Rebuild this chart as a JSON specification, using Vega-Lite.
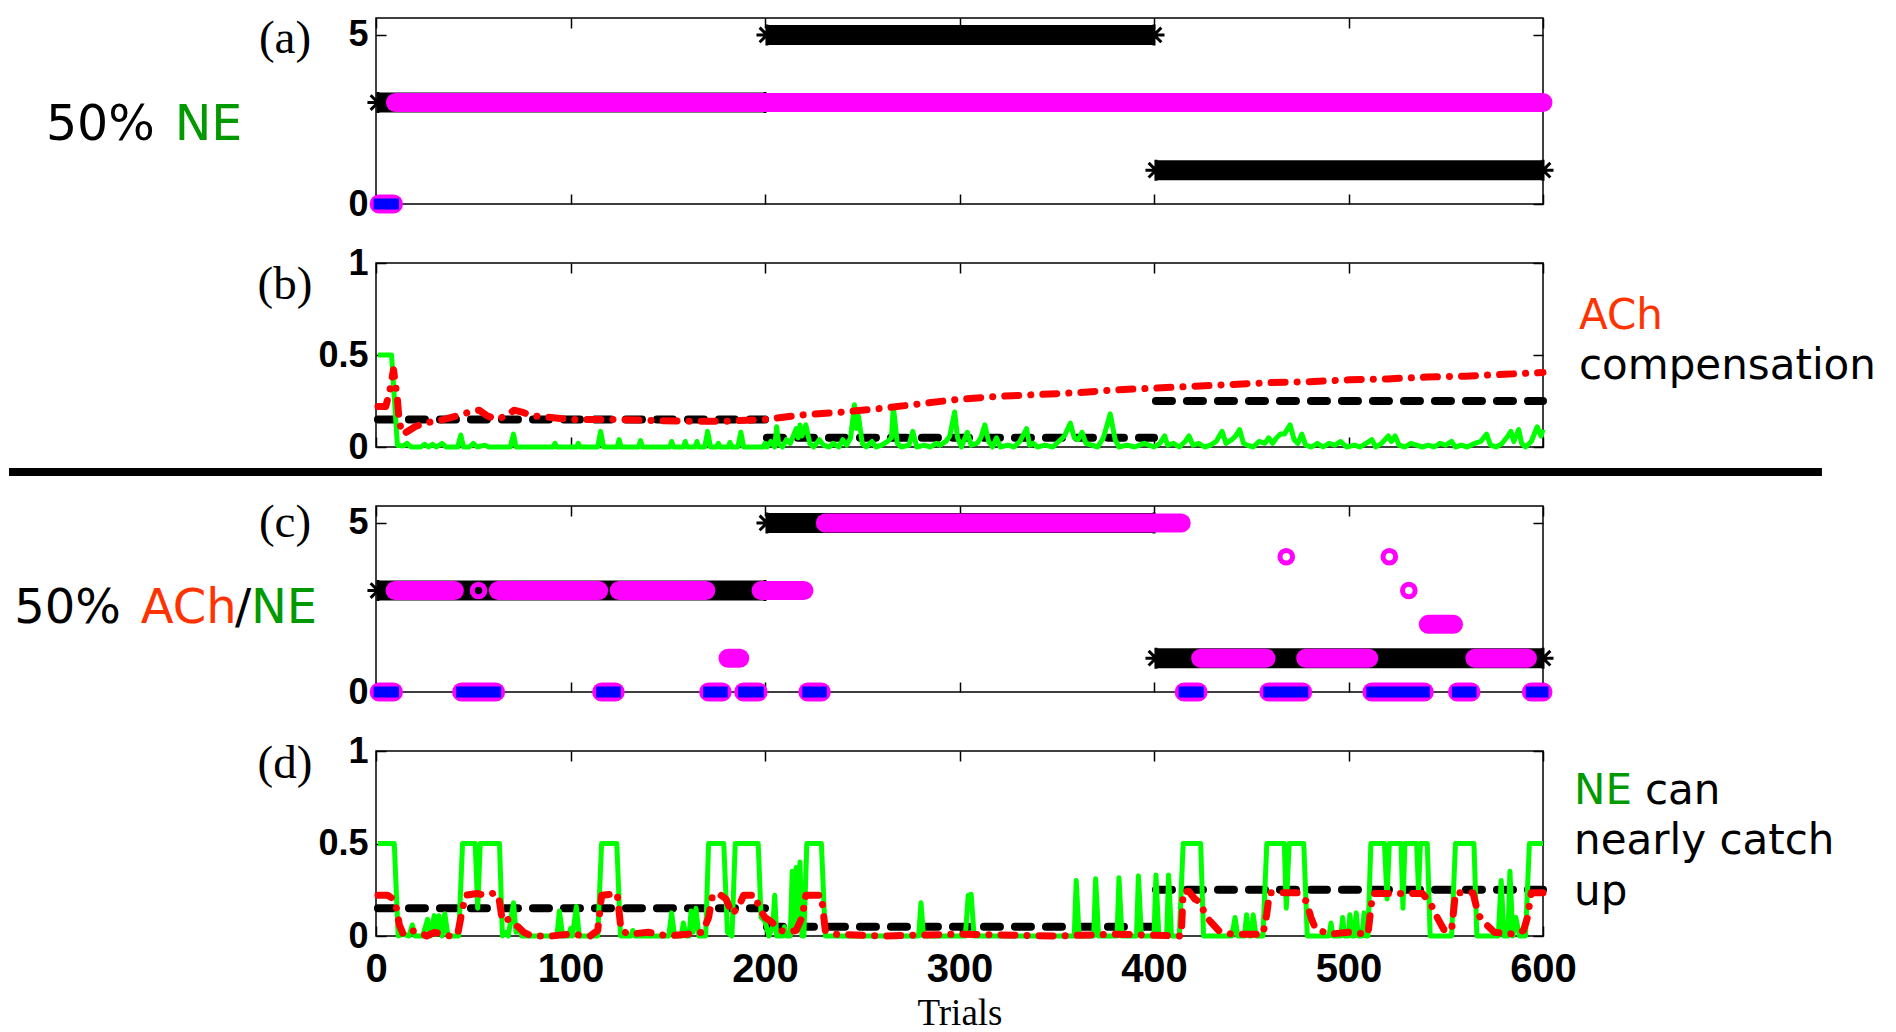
{
"$schema": "https://vega.github.io/schema/vega-lite/v6.json",
"background": "white",
"padding": {"left": 4, "top": 14, "right": 5, "bottom": 0},
"spacing": 59,
"bounds": "flush",
"config": {
  "view": {"stroke": "black", "strokeWidth": 1.5},
  "axis": {"domain": false, "grid": false, "labelFont": "Liberation Sans", "labelFontWeight": "bold", "labelFontSize": 36, "labelColor": "black", "tickColor": "black", "tickWidth": 1.5, "tickSize": -10, "titleColor": "black"}
},
"datasets": {
  "bands": [
    {"p":"a","k":"true","x":1,"x2":200,"y":3},
    {"p":"a","k":"true","x":201,"x2":400,"y":5},
    {"p":"a","k":"true","x":401,"x2":600,"y":1},
    {"p":"a","k":"choice","x":10,"x2":600,"y":3},
    {"p":"a","k":"zero","x":1.6,"x2":9,"y":0},
    {"p":"c","k":"true","x":1,"x2":200,"y":3},
    {"p":"c","k":"true","x":201,"x2":400,"y":5},
    {"p":"c","k":"true","x":401,"x2":600,"y":1},
    {"p":"c","k":"choice","x":9.8,"x2":40.3,"y":3},
    {"p":"c","k":"choice","x":62.9,"x2":114.5,"y":3},
    {"p":"c","k":"choice","x":125,"x2":169.6,"y":3},
    {"p":"c","k":"choice","x":198,"x2":220,"y":3},
    {"p":"c","k":"choice","x":181,"x2":187,"y":1},
    {"p":"c","k":"choice","x":231,"x2":414,"y":5},
    {"p":"c","k":"choice","x":424,"x2":457.6,"y":1},
    {"p":"c","k":"choice","x":478,"x2":510.4,"y":1},
    {"p":"c","k":"choice","x":565,"x2":592,"y":1},
    {"p":"c","k":"choice","x":541,"x2":554,"y":2},
    {"p":"c","k":"zero","x":1.6,"x2":9,"y":0},
    {"p":"c","k":"zero","x":44,"x2":61.5,"y":0},
    {"p":"c","k":"zero","x":116,"x2":123,"y":0},
    {"p":"c","k":"zero","x":171,"x2":178,"y":0},
    {"p":"c","k":"zero","x":189,"x2":196.5,"y":0},
    {"p":"c","k":"zero","x":222,"x2":229,"y":0},
    {"p":"c","k":"zero","x":415.5,"x2":422.7,"y":0},
    {"p":"c","k":"zero","x":459,"x2":476.5,"y":0},
    {"p":"c","k":"zero","x":512,"x2":539,"y":0},
    {"p":"c","k":"zero","x":556,"x2":563,"y":0},
    {"p":"c","k":"zero","x":594,"x2":600,"y":0}
  ],
  "rings": [
    {"p":"c","x":52.7,"y":3},
    {"p":"c","x":468,"y":4},
    {"p":"c","x":521,"y":4},
    {"p":"c","x":531,"y":3}
  ],
  "dashes": [
    {"p":"b","x":1,"x2":200,"y":0.15},
    {"p":"b","x":201,"x2":400,"y":0.05},
    {"p":"b","x":401,"x2":600,"y":0.25},
    {"p":"d","x":1,"x2":200,"y":0.15},
    {"p":"d","x":201,"x2":400,"y":0.05},
    {"p":"d","x":401,"x2":600,"y":0.25}
  ],
  "sep": [{"x":-188.7,"x2":743.4,"y":-0.136}],
  "texts": [
    {"p":"a","r":"lab","t":"(a)","x":-46.8,"y":4.88,"c":"k"},
    {"p":"b","r":"lab","t":"(b)","x":-46.8,"y":0.88,"c":"k"},
    {"p":"c","r":"lab","t":"(c)","x":-46.8,"y":5.0,"c":"k"},
    {"p":"d","r":"lab","t":"(d)","x":-46.8,"y":0.93,"c":"k"},
    {"p":"a","r":"big","t":"50%","x":-169.7,"y":1.89,"c":"k"},
    {"p":"a","r":"big","t":"NE","x":-103.5,"y":1.89,"c":"ne"},
    {"p":"c","r":"big","t":"50%","x":-186,"y":2.04,"c":"k"},
    {"p":"c","r":"big","t":"ACh","x":-121,"y":2.04,"c":"ach"},
    {"p":"c","r":"big","t":"/","x":-72.5,"y":2.04,"c":"k"},
    {"p":"c","r":"big","t":"NE","x":-64.3,"y":2.04,"c":"ne"},
    {"p":"b","r":"side","t":"ACh","x":618.5,"y":0.641,"c":"ach"},
    {"p":"b","r":"side","t":"compensation","x":618.5,"y":0.37,"c":"k"},
    {"p":"d","r":"side","t":"NE","x":616,"y":0.714,"c":"ne"},
    {"p":"d","r":"side","t":"can","x":652.4,"y":0.714,"c":"k"},
    {"p":"d","r":"side","t":"nearly catch","x":616,"y":0.443,"c":"k"},
    {"p":"d","r":"side","t":"up","x":616,"y":0.168,"c":"k"}
  ],
  "greenB": [
    {"x":1,"y":0.5},{"x":8,"y":0.5},{"x":11,"y":0.01},{"x":14,"y":0.005},{"x":16,"y":0.02},{"x":18,"y":0},{"x":23,"y":0},{"x":25,"y":0.015},{"x":27,"y":0},{"x":29,"y":0.015},{"x":31,"y":0},{"x":34,"y":0.02},{"x":36,"y":0},{"x":42,"y":0},{"x":43.6,"y":0.065},{"x":45,"y":0},{"x":48,"y":0},{"x":50,"y":0.02},{"x":52,"y":0},{"x":56,"y":0.01},{"x":58,"y":0},{"x":69,"y":0},{"x":70.7,"y":0.07},{"x":72,"y":0},{"x":91,"y":0},{"x":92,"y":0.02},{"x":93,"y":0},{"x":103,"y":0},{"x":104,"y":0.02},{"x":105,"y":0},{"x":114,"y":0},{"x":115.5,"y":0.085},{"x":117,"y":0},{"x":124,"y":0},{"x":125,"y":0.04},{"x":126,"y":0},{"x":135,"y":0},{"x":136,"y":0.035},{"x":137,"y":0},{"x":151,"y":0},{"x":152,"y":0.03},{"x":153,"y":0},{"x":158,"y":0},{"x":159,"y":0.03},{"x":160,"y":0},{"x":164,"y":0},{"x":165,"y":0.03},{"x":166,"y":0},{"x":169,"y":0},{"x":170.5,"y":0.085},{"x":172,"y":0},{"x":175,"y":0},{"x":176,"y":0.02},{"x":177,"y":0},{"x":181,"y":0},{"x":182,"y":0.025},{"x":183,"y":0},{"x":186,"y":0},{"x":187.6,"y":0.08},{"x":189,"y":0},{"x":199,"y":0},{"x":200,"y":0.02},{"x":201,"y":0},{"x":203,"y":0.03},{"x":205,"y":0},{"x":206,"y":0.11},{"x":207,"y":0.02},{"x":209,"y":0},{"x":211,"y":0.04},{"x":213,"y":0.02},{"x":216,"y":0.1},{"x":217,"y":0.05},{"x":218,"y":0.12},{"x":219,"y":0.06},{"x":221,"y":0.12},{"x":223,"y":0.02},{"x":225,"y":0},{"x":228,"y":0.04},{"x":230,"y":0.01},{"x":233,"y":0},{"x":235,"y":0.02},{"x":238,"y":0},{"x":240,"y":0.04},{"x":242,"y":0.01},{"x":244,"y":0.05},{"x":246,"y":0.23},{"x":247,"y":0.1},{"x":248,"y":0.17},{"x":250,"y":0.02},{"x":252,"y":0},{"x":255,"y":0.03},{"x":257,"y":0},{"x":260,"y":0.01},{"x":263,"y":0.03},{"x":265,"y":0.05},{"x":266,"y":0.22},{"x":268,"y":0.02},{"x":270,"y":0},{"x":274,"y":0.01},{"x":276,"y":0.085},{"x":278,"y":0},{"x":282,"y":0.01},{"x":285,"y":0},{"x":288,"y":0.02},{"x":290,"y":0.01},{"x":293,"y":0.03},{"x":295,"y":0.06},{"x":297.5,"y":0.19},{"x":299,"y":0.05},{"x":301,"y":0},{"x":304,"y":0.08},{"x":306,"y":0.01},{"x":309,"y":0.02},{"x":311,"y":0.05},{"x":313,"y":0.12},{"x":315,"y":0.03},{"x":317,"y":0},{"x":319,"y":0.05},{"x":321,"y":0},{"x":325,"y":0.01},{"x":328,"y":0},{"x":331,"y":0.03},{"x":334.5,"y":0.1},{"x":336,"y":0.01},{"x":338,"y":0.02},{"x":340,"y":0},{"x":344,"y":0.01},{"x":348,"y":0},{"x":351,"y":0.03},{"x":354,"y":0.06},{"x":357,"y":0.13},{"x":359,"y":0.05},{"x":361,"y":0.04},{"x":363,"y":0.08},{"x":365,"y":0.02},{"x":368,"y":0.01},{"x":371,"y":0},{"x":374,"y":0.05},{"x":377.5,"y":0.18},{"x":380,"y":0.04},{"x":382,"y":0},{"x":386,"y":0.01},{"x":390,"y":0},{"x":395,"y":0.02},{"x":400,"y":0},{"x":403,"y":0.02},{"x":405.5,"y":0.06},{"x":407,"y":0.01},{"x":410,"y":0.02},{"x":413,"y":0},{"x":416,"y":0.03},{"x":418,"y":0.06},{"x":420,"y":0.01},{"x":423,"y":0.02},{"x":426,"y":0},{"x":429,"y":0.01},{"x":432,"y":0.03},{"x":435,"y":0.085},{"x":437,"y":0.02},{"x":440,"y":0.04},{"x":442,"y":0.06},{"x":444,"y":0.095},{"x":446,"y":0.02},{"x":448,"y":0.01},{"x":451,"y":0},{"x":454,"y":0.03},{"x":457,"y":0.02},{"x":459,"y":0.05},{"x":461,"y":0.02},{"x":463,"y":0.05},{"x":465,"y":0.07},{"x":467,"y":0.07},{"x":470,"y":0.12},{"x":472,"y":0.04},{"x":474,"y":0.02},{"x":476,"y":0.07},{"x":478,"y":0.01},{"x":481,"y":0},{"x":484,"y":0.02},{"x":487,"y":0},{"x":490,"y":0.02},{"x":493,"y":0.01},{"x":496,"y":0.03},{"x":499,"y":0},{"x":503,"y":0.01},{"x":506,"y":0},{"x":509,"y":0.02},{"x":512,"y":0.04},{"x":514,"y":0},{"x":517,"y":0.02},{"x":520.5,"y":0.06},{"x":522,"y":0.03},{"x":524,"y":0.06},{"x":526,"y":0.01},{"x":529,"y":0},{"x":532,"y":0.02},{"x":535,"y":0.01},{"x":538,"y":0},{"x":541,"y":0.01},{"x":544,"y":0},{"x":547,"y":0.02},{"x":550,"y":0.01},{"x":553,"y":0.03},{"x":555,"y":0},{"x":558,"y":0.01},{"x":561,"y":0},{"x":565,"y":0.02},{"x":568,"y":0.03},{"x":571,"y":0.07},{"x":573,"y":0.01},{"x":576,"y":0},{"x":579,"y":0.02},{"x":582,"y":0.06},{"x":583.5,"y":0.085},{"x":585,"y":0.03},{"x":587.5,"y":0.095},{"x":589,"y":0.02},{"x":591,"y":0},{"x":594,"y":0.03},{"x":597,"y":0.11},{"x":599,"y":0.06},{"x":600,"y":0.095}
  ],
  "redB": [
    {"x":1,"y":0.22},{"x":5,"y":0.22},{"x":7,"y":0.3},{"x":9,"y":0.42},{"x":11,"y":0.26},{"x":12,"y":0.13},{"x":14,"y":0.07},{"x":17,"y":0.09},{"x":20,"y":0.11},{"x":25,"y":0.13},{"x":30,"y":0.14},{"x":35,"y":0.15},{"x":42,"y":0.17},{"x":48,"y":0.19},{"x":53,"y":0.2},{"x":57,"y":0.17},{"x":62,"y":0.15},{"x":67,"y":0.17},{"x":71,"y":0.2},{"x":75,"y":0.19},{"x":80,"y":0.17},{"x":90,"y":0.16},{"x":100,"y":0.15},{"x":120,"y":0.15},{"x":140,"y":0.145},{"x":160,"y":0.14},{"x":180,"y":0.14},{"x":200,"y":0.15},{"x":220,"y":0.175},{"x":240,"y":0.19},{"x":260,"y":0.21},{"x":280,"y":0.235},{"x":300,"y":0.26},{"x":320,"y":0.275},{"x":340,"y":0.285},{"x":360,"y":0.295},{"x":380,"y":0.31},{"x":400,"y":0.32},{"x":420,"y":0.33},{"x":440,"y":0.34},{"x":460,"y":0.35},{"x":480,"y":0.355},{"x":500,"y":0.365},{"x":520,"y":0.37},{"x":540,"y":0.38},{"x":560,"y":0.385},{"x":580,"y":0.395},{"x":600,"y":0.405}
  ],
  "greenD": [
    {"x":1,"y":0.5},{"x":9.4,"y":0.5},{"x":11.4,"y":0},{"x":14,"y":0.01},{"x":17,"y":0},{"x":18.7,"y":0.06},{"x":20,"y":0},{"x":24,"y":0},{"x":26.5,"y":0.09},{"x":28,"y":0},{"x":29.9,"y":0.11},{"x":31,"y":0.01},{"x":32.4,"y":0.11},{"x":34,"y":0},{"x":35.4,"y":0.12},{"x":37,"y":0},{"x":42.5,"y":0},{"x":44.5,"y":0.5},{"x":51,"y":0.5},{"x":52.3,"y":0.15},{"x":53.6,"y":0.5},{"x":63.5,"y":0.5},{"x":65,"y":0},{"x":66.5,"y":0.02},{"x":68,"y":0},{"x":70.7,"y":0.18},{"x":72,"y":0.02},{"x":73.7,"y":0.05},{"x":75,"y":0},{"x":93,"y":0},{"x":94.3,"y":0.135},{"x":96,"y":0},{"x":99,"y":0},{"x":100,"y":0.04},{"x":101,"y":0},{"x":103,"y":0.16},{"x":104.5,"y":0},{"x":114,"y":0},{"x":116,"y":0.5},{"x":123.8,"y":0.5},{"x":125.7,"y":0},{"x":131,"y":0},{"x":132,"y":0.03},{"x":133,"y":0},{"x":150.5,"y":0},{"x":152,"y":0.125},{"x":153.5,"y":0},{"x":157,"y":0},{"x":158,"y":0.07},{"x":159.5,"y":0},{"x":161,"y":0},{"x":162,"y":0.135},{"x":163,"y":0.02},{"x":164.5,"y":0.15},{"x":166,"y":0},{"x":169.5,"y":0},{"x":171,"y":0.5},{"x":178.8,"y":0.5},{"x":180.7,"y":0.02},{"x":183,"y":0},{"x":184.7,"y":0.5},{"x":196.5,"y":0.5},{"x":198,"y":0.1},{"x":200,"y":0.08},{"x":202,"y":0},{"x":204,"y":0.05},{"x":205,"y":0.22},{"x":206,"y":0},{"x":209,"y":0},{"x":210,"y":0.05},{"x":211,"y":0},{"x":213,"y":0},{"x":214,"y":0.35},{"x":215,"y":0.05},{"x":216,"y":0.37},{"x":217,"y":0.08},{"x":218,"y":0.4},{"x":219,"y":0},{"x":220,"y":0},{"x":221.5,"y":0.5},{"x":229,"y":0.5},{"x":231,"y":0},{"x":279,"y":0},{"x":280.2,"y":0.18},{"x":281.5,"y":0},{"x":303,"y":0},{"x":304.5,"y":0.22},{"x":306,"y":0.225},{"x":307.5,"y":0},{"x":359,"y":0},{"x":360,"y":0.3},{"x":361.5,"y":0},{"x":369,"y":0},{"x":370,"y":0.31},{"x":371.5,"y":0},{"x":381,"y":0},{"x":382,"y":0.315},{"x":383.5,"y":0},{"x":391,"y":0},{"x":392,"y":0.325},{"x":393.5,"y":0},{"x":400,"y":0},{"x":401,"y":0.33},{"x":402.5,"y":0},{"x":406.5,"y":0},{"x":407.5,"y":0.33},{"x":409,"y":0},{"x":413,"y":0},{"x":415,"y":0.5},{"x":424,"y":0.5},{"x":425.5,"y":0},{"x":440,"y":0},{"x":441.7,"y":0.1},{"x":443,"y":0},{"x":446.5,"y":0},{"x":447.6,"y":0.115},{"x":449,"y":0},{"x":450,"y":0},{"x":451,"y":0.115},{"x":452.5,"y":0},{"x":456,"y":0},{"x":458,"y":0.5},{"x":467,"y":0.5},{"x":468,"y":0.15},{"x":469.5,"y":0.5},{"x":477,"y":0.5},{"x":478.8,"y":0},{"x":490,"y":0},{"x":491,"y":0.07},{"x":492,"y":0},{"x":496,"y":0},{"x":497,"y":0.1},{"x":498,"y":0},{"x":500,"y":0},{"x":500.7,"y":0.115},{"x":502,"y":0},{"x":503,"y":0},{"x":504,"y":0.125},{"x":505,"y":0},{"x":507,"y":0},{"x":508,"y":0.125},{"x":509,"y":0},{"x":510,"y":0},{"x":511.5,"y":0.5},{"x":518.5,"y":0.5},{"x":519.8,"y":0.2},{"x":521,"y":0.5},{"x":527,"y":0.5},{"x":528,"y":0.15},{"x":529,"y":0.5},{"x":535,"y":0.5},{"x":536,"y":0.25},{"x":537,"y":0.5},{"x":540.5,"y":0.5},{"x":542,"y":0},{"x":553,"y":0},{"x":555,"y":0.5},{"x":564.5,"y":0.5},{"x":566,"y":0},{"x":577,"y":0},{"x":578.5,"y":0.3},{"x":580,"y":0},{"x":582,"y":0},{"x":583,"y":0.35},{"x":584.5,"y":0},{"x":586,"y":0.1},{"x":588,"y":0},{"x":591,"y":0},{"x":593,"y":0.5},{"x":600,"y":0.5}
  ],
  "redD": [
    {"x":1,"y":0.22},{"x":6,"y":0.22},{"x":9,"y":0.2},{"x":10.5,"y":0.15},{"x":12,"y":0.06},{"x":14,"y":0.01},{"x":18,"y":0.03},{"x":22,"y":0.02},{"x":26,"y":0},{"x":30,"y":0.02},{"x":34,"y":0.01},{"x":38,"y":0},{"x":42,"y":0.01},{"x":44,"y":0.12},{"x":46,"y":0.22},{"x":52,"y":0.23},{"x":56,"y":0.22},{"x":60,"y":0.23},{"x":63,"y":0.22},{"x":65,"y":0.08},{"x":68,"y":0.09},{"x":70,"y":0.07},{"x":73,"y":0.05},{"x":76,"y":0.02},{"x":80,"y":0},{"x":90,"y":0},{"x":100,"y":0.01},{"x":110,"y":0},{"x":114,"y":0.03},{"x":116,"y":0.22},{"x":124,"y":0.23},{"x":126,"y":0.03},{"x":130,"y":0.01},{"x":140,"y":0.02},{"x":150,"y":0},{"x":160,"y":0.01},{"x":168,"y":0.02},{"x":171,"y":0.1},{"x":173,"y":0.22},{"x":176,"y":0.23},{"x":180,"y":0.2},{"x":183,"y":0.12},{"x":186,"y":0.15},{"x":189,"y":0.22},{"x":195,"y":0.22},{"x":197,"y":0.15},{"x":200,"y":0.1},{"x":203,"y":0.08},{"x":205,"y":0.06},{"x":208,"y":0.03},{"x":212,"y":0.02},{"x":216,"y":0.03},{"x":219,"y":0.1},{"x":221,"y":0.22},{"x":229,"y":0.22},{"x":231,"y":0.03},{"x":235,"y":0.01},{"x":260,"y":0},{"x":300,"y":0.01},{"x":350,"y":0},{"x":380,"y":0.01},{"x":414,"y":0},{"x":415,"y":0.24},{"x":418,"y":0.24},{"x":421,"y":0.2},{"x":424,"y":0.18},{"x":426,"y":0.12},{"x":428.8,"y":0.08},{"x":433.5,"y":0.027},{"x":440,"y":0.01},{"x":456,"y":0.01},{"x":458,"y":0.12},{"x":459.4,"y":0.234},{"x":473.6,"y":0.234},{"x":476,"y":0.2},{"x":478.3,"y":0.19},{"x":480.7,"y":0.1},{"x":483,"y":0.04},{"x":490,"y":0.01},{"x":500,"y":0.02},{"x":510,"y":0.01},{"x":511.5,"y":0.15},{"x":512.5,"y":0.23},{"x":538,"y":0.23},{"x":542,"y":0.18},{"x":544.3,"y":0.126},{"x":549,"y":0.035},{"x":553,"y":0.03},{"x":555,"y":0.234},{"x":564,"y":0.234},{"x":566.7,"y":0.117},{"x":569,"y":0.08},{"x":575,"y":0.02},{"x":585,"y":0.01},{"x":590,"y":0.03},{"x":592,"y":0.1},{"x":594,"y":0.234},{"x":600,"y":0.234}
  ]
},
"vconcat": [
  {
    "width": 1167, "height": 186,
    "resolve": {"axis": {"x": "independent", "y": "independent"}},
    "layer": [
      {"data": {"name": "bands"}, "transform": [{"filter": "datum.p == 'a' && datum.k == 'true'"}],
       "mark": {"type": "rule", "color": "black", "strokeWidth": 20, "strokeCap": "butt"},
       "encoding": {
         "x": {"field": "x", "type": "quantitative", "scale": {"domain": [0, 600], "nice": false, "zero": false}, "axis": {"orient": "bottom", "values": [0,100,200,300,400,500,600], "labels": false, "title": null}},
         "x2": {"field": "x2"},
         "y": {"field": "y", "type": "quantitative", "scale": {"domain": [0, 5.5], "nice": false, "zero": false}, "axis": {"orient": "left", "values": [0, 5], "labelPadding": 18, "title": null}}
       }},
      {"data": {"name": "bands"}, "transform": [{"filter": "datum.p == 'a' && datum.k == 'true'"}],
       "mark": {"type": "point", "shape": "M-1,0L1,0M0,-1L0,1M-0.7,-0.7L0.7,0.7M-0.7,0.7L0.7,-0.7", "size": 440, "filled": false, "stroke": "black", "strokeWidth": 3, "opacity": 1},
       "encoding": {
         "x": {"field": "x", "type": "quantitative", "scale": {"domain": [0, 600], "nice": false, "zero": false}, "axis": null},
         "y": {"field": "y", "type": "quantitative", "scale": {"domain": [0, 5.5], "nice": false, "zero": false}, "axis": null}
       }},
      {"data": {"name": "bands"}, "transform": [{"filter": "datum.p == 'a' && datum.k == 'true'"}],
       "mark": {"type": "point", "shape": "M-1,0L1,0M0,-1L0,1M-0.7,-0.7L0.7,0.7M-0.7,0.7L0.7,-0.7", "size": 440, "filled": false, "stroke": "black", "strokeWidth": 3, "opacity": 1},
       "encoding": {
         "x": {"field": "x2", "type": "quantitative", "scale": {"domain": [0, 600], "nice": false, "zero": false}, "axis": null},
         "y": {"field": "y", "type": "quantitative", "scale": {"domain": [0, 5.5], "nice": false, "zero": false}, "axis": null}
       }},
      {"data": {"name": "bands"}, "transform": [{"filter": "datum.p == 'a' && datum.k != 'true'"}],
       "mark": {"type": "rule", "color": "#ff00ff", "strokeWidth": 19, "strokeCap": "round"},
       "encoding": {
         "x": {"field": "x", "type": "quantitative", "scale": {"domain": [0, 600], "nice": false, "zero": false}, "axis": {"orient": "top", "values": [0,100,200,300,400,500,600], "labels": false, "title": null}},
         "x2": {"field": "x2"},
         "y": {"field": "y", "type": "quantitative", "scale": {"domain": [0, 5.5], "nice": false, "zero": false}, "axis": {"orient": "right", "values": [0, 5], "labels": false, "title": null}}
       }},
      {"data": {"name": "bands"}, "transform": [{"filter": "datum.p == 'a' && datum.k == 'zero'"}],
       "mark": {"type": "rule", "color": "#0000ff", "strokeWidth": 11, "strokeCap": "square"},
       "encoding": {
         "x": {"field": "x", "type": "quantitative", "scale": {"domain": [0, 600], "nice": false, "zero": false}, "axis": null},
         "x2": {"field": "x2"},
         "y": {"field": "y", "type": "quantitative", "scale": {"domain": [0, 5.5], "nice": false, "zero": false}, "axis": null}
       }},
      {"data": {"name": "texts"}, "transform": [{"filter": "datum.p == 'a' && datum.r == 'lab'"}],
       "mark": {"type": "text", "font": "Liberation Serif", "fontSize": 47, "align": "center", "baseline": "middle", "color": "black"},
       "encoding": {
         "x": {"field": "x", "type": "quantitative", "scale": {"domain": [0, 600], "nice": false, "zero": false}, "axis": null},
         "y": {"field": "y", "type": "quantitative", "scale": {"domain": [0, 5.5], "nice": false, "zero": false}, "axis": null},
         "text": {"field": "t"}
       }},
      {"data": {"name": "texts"}, "transform": [{"filter": "datum.p == 'a' && datum.r == 'big'"}],
       "mark": {"type": "text", "font": "DejaVu Sans", "fontSize": 49, "align": "left", "baseline": "alphabetic"},
       "encoding": {
         "x": {"field": "x", "type": "quantitative", "scale": {"domain": [0, 600], "nice": false, "zero": false}, "axis": null},
         "y": {"field": "y", "type": "quantitative", "scale": {"domain": [0, 5.5], "nice": false, "zero": false}, "axis": null},
         "text": {"field": "t"},
         "color": {"field": "c", "type": "nominal", "scale": {"domain": ["k", "ach", "ne"], "range": ["black", "#ff3300", "#009900"]}, "legend": null}
       }}
    ]
  },
  {
    "width": 1167, "height": 184,
    "resolve": {"axis": {"x": "independent", "y": "independent"}},
    "layer": [
      {"data": {"name": "dashes"}, "transform": [{"filter": "datum.p == 'b'"}],
       "mark": {"type": "rule", "color": "black", "strokeWidth": 8, "strokeCap": "round", "strokeDash": [16, 15]},
       "encoding": {
         "x": {"field": "x", "type": "quantitative", "scale": {"domain": [0, 600], "nice": false, "zero": false}, "axis": {"orient": "bottom", "values": [0,100,200,300,400,500,600], "labels": false, "title": null}},
         "x2": {"field": "x2"},
         "y": {"field": "y", "type": "quantitative", "scale": {"domain": [0, 1], "nice": false, "zero": false}, "axis": {"orient": "left", "values": [0, 0.5, 1], "labelExpr": "datum.value == 0.5 ? '0.5' : format(datum.value, 'd')", "labelPadding": 18, "title": null}}
       }},
      {"data": {"name": "greenB"},
       "mark": {"type": "line", "color": "#00ff00", "strokeWidth": 5, "strokeJoin": "round"},
       "encoding": {
         "x": {"field": "x", "type": "quantitative", "scale": {"domain": [0, 600], "nice": false, "zero": false}, "axis": null},
         "y": {"field": "y", "type": "quantitative", "scale": {"domain": [0, 1], "nice": false, "zero": false}, "axis": null}
       }},
      {"data": {"name": "redB"},
       "mark": {"type": "line", "color": "#ff0000", "strokeWidth": 7, "strokeCap": "round", "strokeJoin": "round", "strokeDash": [14, 12, 0.1, 12]},
       "encoding": {
         "x": {"field": "x", "type": "quantitative", "scale": {"domain": [0, 600], "nice": false, "zero": false}, "axis": {"orient": "top", "values": [0,100,200,300,400,500,600], "labels": false, "title": null}},
         "y": {"field": "y", "type": "quantitative", "scale": {"domain": [0, 1], "nice": false, "zero": false}, "axis": {"orient": "right", "values": [0, 0.5, 1], "labels": false, "title": null}}
       }},
      {"data": {"name": "sep"},
       "mark": {"type": "rule", "color": "black", "strokeWidth": 8, "strokeCap": "butt"},
       "encoding": {
         "x": {"field": "x", "type": "quantitative", "scale": {"domain": [0, 600], "nice": false, "zero": false}, "axis": null},
         "x2": {"field": "x2"},
         "y": {"field": "y", "type": "quantitative", "scale": {"domain": [0, 1], "nice": false, "zero": false}, "axis": null}
       }},
      {"data": {"name": "texts"}, "transform": [{"filter": "datum.p == 'b' && datum.r == 'lab'"}],
       "mark": {"type": "text", "font": "Liberation Serif", "fontSize": 47, "align": "center", "baseline": "middle", "color": "black"},
       "encoding": {
         "x": {"field": "x", "type": "quantitative", "scale": {"domain": [0, 600], "nice": false, "zero": false}, "axis": null},
         "y": {"field": "y", "type": "quantitative", "scale": {"domain": [0, 1], "nice": false, "zero": false}, "axis": null},
         "text": {"field": "t"}
       }},
      {"data": {"name": "texts"}, "transform": [{"filter": "datum.p == 'b' && datum.r == 'side'"}],
       "mark": {"type": "text", "font": "DejaVu Sans", "fontSize": 42, "align": "left", "baseline": "alphabetic"},
       "encoding": {
         "x": {"field": "x", "type": "quantitative", "scale": {"domain": [0, 600], "nice": false, "zero": false}, "axis": null},
         "y": {"field": "y", "type": "quantitative", "scale": {"domain": [0, 1], "nice": false, "zero": false}, "axis": null},
         "text": {"field": "t"},
         "color": {"field": "c", "type": "nominal", "scale": {"domain": ["k", "ach", "ne"], "range": ["black", "#ff3300", "#009900"]}, "legend": null}
       }}
    ]
  },
  {
    "width": 1167, "height": 186,
    "resolve": {"axis": {"x": "independent", "y": "independent"}},
    "layer": [
      {"data": {"name": "bands"}, "transform": [{"filter": "datum.p == 'c' && datum.k == 'true'"}],
       "mark": {"type": "rule", "color": "black", "strokeWidth": 20, "strokeCap": "butt"},
       "encoding": {
         "x": {"field": "x", "type": "quantitative", "scale": {"domain": [0, 600], "nice": false, "zero": false}, "axis": {"orient": "bottom", "values": [0,100,200,300,400,500,600], "labels": false, "title": null}},
         "x2": {"field": "x2"},
         "y": {"field": "y", "type": "quantitative", "scale": {"domain": [0, 5.5], "nice": false, "zero": false}, "axis": {"orient": "left", "values": [0, 5], "labelPadding": 18, "title": null}}
       }},
      {"data": {"name": "bands"}, "transform": [{"filter": "datum.p == 'c' && datum.k == 'true'"}],
       "mark": {"type": "point", "shape": "M-1,0L1,0M0,-1L0,1M-0.7,-0.7L0.7,0.7M-0.7,0.7L0.7,-0.7", "size": 440, "filled": false, "stroke": "black", "strokeWidth": 3, "opacity": 1},
       "encoding": {
         "x": {"field": "x", "type": "quantitative", "scale": {"domain": [0, 600], "nice": false, "zero": false}, "axis": null},
         "y": {"field": "y", "type": "quantitative", "scale": {"domain": [0, 5.5], "nice": false, "zero": false}, "axis": null}
       }},
      {"data": {"name": "bands"}, "transform": [{"filter": "datum.p == 'c' && datum.k == 'true'"}],
       "mark": {"type": "point", "shape": "M-1,0L1,0M0,-1L0,1M-0.7,-0.7L0.7,0.7M-0.7,0.7L0.7,-0.7", "size": 440, "filled": false, "stroke": "black", "strokeWidth": 3, "opacity": 1},
       "encoding": {
         "x": {"field": "x2", "type": "quantitative", "scale": {"domain": [0, 600], "nice": false, "zero": false}, "axis": null},
         "y": {"field": "y", "type": "quantitative", "scale": {"domain": [0, 5.5], "nice": false, "zero": false}, "axis": null}
       }},
      {"data": {"name": "bands"}, "transform": [{"filter": "datum.p == 'c' && datum.k != 'true'"}],
       "mark": {"type": "rule", "color": "#ff00ff", "strokeWidth": 19, "strokeCap": "round"},
       "encoding": {
         "x": {"field": "x", "type": "quantitative", "scale": {"domain": [0, 600], "nice": false, "zero": false}, "axis": {"orient": "top", "values": [0,100,200,300,400,500,600], "labels": false, "title": null}},
         "x2": {"field": "x2"},
         "y": {"field": "y", "type": "quantitative", "scale": {"domain": [0, 5.5], "nice": false, "zero": false}, "axis": {"orient": "right", "values": [0, 5], "labels": false, "title": null}}
       }},
      {"data": {"name": "bands"}, "transform": [{"filter": "datum.p == 'c' && datum.k == 'zero'"}],
       "mark": {"type": "rule", "color": "#0000ff", "strokeWidth": 11, "strokeCap": "square"},
       "encoding": {
         "x": {"field": "x", "type": "quantitative", "scale": {"domain": [0, 600], "nice": false, "zero": false}, "axis": null},
         "x2": {"field": "x2"},
         "y": {"field": "y", "type": "quantitative", "scale": {"domain": [0, 5.5], "nice": false, "zero": false}, "axis": null}
       }},
      {"data": {"name": "rings"}, "transform": [{"filter": "datum.p == 'c'"}],
       "mark": {"type": "point", "shape": "circle", "size": 160, "filled": false, "stroke": "#ff00ff", "strokeWidth": 5, "opacity": 1},
       "encoding": {
         "x": {"field": "x", "type": "quantitative", "scale": {"domain": [0, 600], "nice": false, "zero": false}, "axis": null},
         "y": {"field": "y", "type": "quantitative", "scale": {"domain": [0, 5.5], "nice": false, "zero": false}, "axis": null}
       }},
      {"data": {"name": "texts"}, "transform": [{"filter": "datum.p == 'c' && datum.r == 'lab'"}],
       "mark": {"type": "text", "font": "Liberation Serif", "fontSize": 47, "align": "center", "baseline": "middle", "color": "black"},
       "encoding": {
         "x": {"field": "x", "type": "quantitative", "scale": {"domain": [0, 600], "nice": false, "zero": false}, "axis": null},
         "y": {"field": "y", "type": "quantitative", "scale": {"domain": [0, 5.5], "nice": false, "zero": false}, "axis": null},
         "text": {"field": "t"}
       }},
      {"data": {"name": "texts"}, "transform": [{"filter": "datum.p == 'c' && datum.r == 'big'"}],
       "mark": {"type": "text", "font": "DejaVu Sans", "fontSize": 48, "align": "left", "baseline": "alphabetic"},
       "encoding": {
         "x": {"field": "x", "type": "quantitative", "scale": {"domain": [0, 600], "nice": false, "zero": false}, "axis": null},
         "y": {"field": "y", "type": "quantitative", "scale": {"domain": [0, 5.5], "nice": false, "zero": false}, "axis": null},
         "text": {"field": "t"},
         "color": {"field": "c", "type": "nominal", "scale": {"domain": ["k", "ach", "ne"], "range": ["black", "#ff3300", "#009900"]}, "legend": null}
       }}
    ]
  },
  {
    "width": 1167, "height": 185,
    "resolve": {"axis": {"x": "independent", "y": "independent"}},
    "layer": [
      {"data": {"name": "dashes"}, "transform": [{"filter": "datum.p == 'd'"}],
       "mark": {"type": "rule", "color": "black", "strokeWidth": 8, "strokeCap": "round", "strokeDash": [16, 15]},
       "encoding": {
         "x": {"field": "x", "type": "quantitative", "scale": {"domain": [0, 600], "nice": false, "zero": false}, "axis": {"orient": "bottom", "values": [0,100,200,300,400,500,600], "labelFontSize": 40, "labelPadding": 23, "labelFlush": false, "title": "Trials", "titleFont": "Liberation Serif", "titleFontWeight": "normal", "titleFontSize": 37, "titlePadding": 6}},
         "x2": {"field": "x2"},
         "y": {"field": "y", "type": "quantitative", "scale": {"domain": [0, 1], "nice": false, "zero": false}, "axis": {"orient": "left", "values": [0, 0.5, 1], "labelExpr": "datum.value == 0.5 ? '0.5' : format(datum.value, 'd')", "labelPadding": 18, "title": null}}
       }},
      {"data": {"name": "greenD"},
       "mark": {"type": "line", "color": "#00ff00", "strokeWidth": 5, "strokeJoin": "round"},
       "encoding": {
         "x": {"field": "x", "type": "quantitative", "scale": {"domain": [0, 600], "nice": false, "zero": false}, "axis": null},
         "y": {"field": "y", "type": "quantitative", "scale": {"domain": [0, 1], "nice": false, "zero": false}, "axis": null}
       }},
      {"data": {"name": "redD"},
       "mark": {"type": "line", "color": "#ff0000", "strokeWidth": 7, "strokeCap": "round", "strokeJoin": "round", "strokeDash": [14, 12, 0.1, 12]},
       "encoding": {
         "x": {"field": "x", "type": "quantitative", "scale": {"domain": [0, 600], "nice": false, "zero": false}, "axis": {"orient": "top", "values": [0,100,200,300,400,500,600], "labels": false, "title": null}},
         "y": {"field": "y", "type": "quantitative", "scale": {"domain": [0, 1], "nice": false, "zero": false}, "axis": {"orient": "right", "values": [0, 0.5, 1], "labels": false, "title": null}}
       }},
      {"data": {"name": "texts"}, "transform": [{"filter": "datum.p == 'd' && datum.r == 'lab'"}],
       "mark": {"type": "text", "font": "Liberation Serif", "fontSize": 47, "align": "center", "baseline": "middle", "color": "black"},
       "encoding": {
         "x": {"field": "x", "type": "quantitative", "scale": {"domain": [0, 600], "nice": false, "zero": false}, "axis": null},
         "y": {"field": "y", "type": "quantitative", "scale": {"domain": [0, 1], "nice": false, "zero": false}, "axis": null},
         "text": {"field": "t"}
       }},
      {"data": {"name": "texts"}, "transform": [{"filter": "datum.p == 'd' && datum.r == 'side'"}],
       "mark": {"type": "text", "font": "DejaVu Sans", "fontSize": 42, "align": "left", "baseline": "alphabetic"},
       "encoding": {
         "x": {"field": "x", "type": "quantitative", "scale": {"domain": [0, 600], "nice": false, "zero": false}, "axis": null},
         "y": {"field": "y", "type": "quantitative", "scale": {"domain": [0, 1], "nice": false, "zero": false}, "axis": null},
         "text": {"field": "t"},
         "color": {"field": "c", "type": "nominal", "scale": {"domain": ["k", "ach", "ne"], "range": ["black", "#ff3300", "#009900"]}, "legend": null}
       }}
    ]
  }
]
}
